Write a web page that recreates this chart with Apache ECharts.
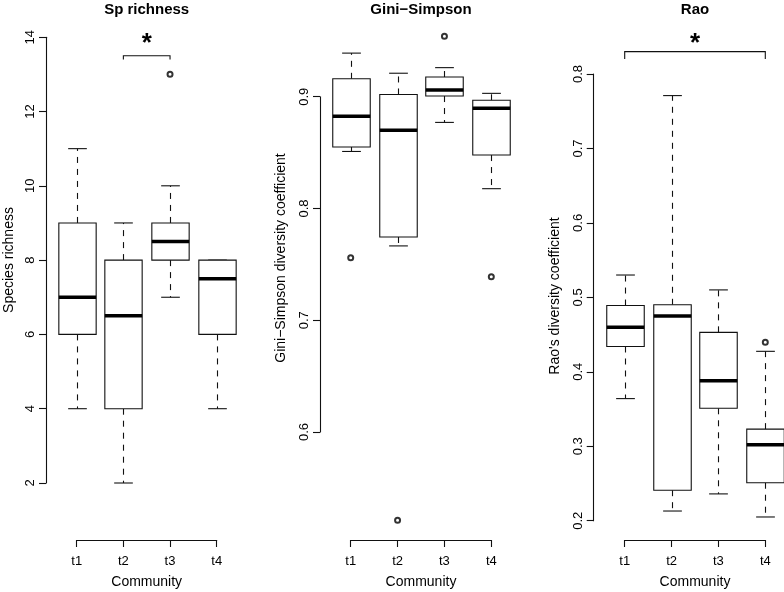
<!DOCTYPE html>
<html><head><meta charset="utf-8">
<script src="https://cdn.jsdelivr.net/npm/echarts@6/dist/echarts.min.js"></script>
<style>html,body{margin:0;padding:0;background:#fff}#c{width:784px;height:592px}</style>
</head><body><div id="c"></div>
<script>
const categories = ['t1', 't2', 't3', 't4'];
// each row: [lower whisker, Q1, median, Q3, upper whisker]
const richnessStats = [[4, 6, 7, 9, 11], [2, 4, 6.5, 8, 9], [7, 8, 8.5, 9, 10], [4, 6, 7.5, 8, 8]];
const richnessOutliers = [[3, 13]];               // [community number, value]
const richnessTicks = [2, 4, 6, 8, 10, 12, 14];
const giniStats = [[0.851, 0.855, 0.8825, 0.916, 0.939], [0.7665, 0.7745, 0.870, 0.902, 0.921],
                   [0.877, 0.9006, 0.906, 0.9176, 0.926], [0.8177, 0.8478, 0.8896, 0.8968, 0.903]];
const giniOutliers = [[1, 0.756], [2, 0.521], [3, 0.954], [4, 0.739]];
const giniTicks = [0.6, 0.7, 0.8, 0.9];
const raoStats = [[0.364, 0.434, 0.460, 0.489, 0.530], [0.213, 0.241, 0.475, 0.490, 0.771],
                  [0.236, 0.351, 0.388, 0.453, 0.510], [0.205, 0.251, 0.302, 0.323, 0.4275]];
const raoOutliers = [[4, 0.4396]];
const raoTicks = [0.2, 0.3, 0.4, 0.5, 0.6, 0.7, 0.8];
// significance brackets: [from community, to community, bar value, bracket end value, star value]
const richnessSig = [[2, 3, 13.5, 13.4, 13.97]];
const raoSig = [[1, 4, 0.830, 0.820, 0.848]];
const titles = ['Sp richness', 'Gini\u2212Simpson', 'Rao'];
const yTitles = ['Species richness', 'Gini\u2212Simpson diversity coefficient', "Rao's diversity coefficient"];
const xTitle = 'Community';

const FONT = '"Liberation Sans", Arial, Helvetica, sans-serif';
const panels = [
  {stats: richnessStats, out: richnessOutliers, ticks: richnessTicks, sig: richnessSig, dec: 0,
   grid: {left: 76.7, right: 567.3, top: 37.2, bottom: 109}, yOff: 30.7, xOff: 57, cx: 146.7, ylx: 9, yly: 260},
  {stats: giniStats, out: giniOutliers, ticks: giniTicks, sig: [], dec: 1,
   grid: {left: 350.7, right: 292.7, top: 96.7, bottom: 160}, yOff: 30.7, xOff: 108, cx: 421, ylx: 281, yly: 258},
  {stats: raoStats, out: raoOutliers, ticks: raoTicks, sig: raoSig, dec: 1,
   grid: {left: 624.7, right: 18.7, top: 74, bottom: 71.3}, yOff: 31, xOff: 19.3, cx: 695, ylx: 555, yly: 296}
];

function renderBox(params, api) {
  const x = api.value(0);
  const lo = api.value(1), q1 = api.value(2), med = api.value(3), q3 = api.value(4), hi = api.value(5);
  const w = api.size([1, 0])[0];
  const hb = w * 0.4, hc = w * 0.2;
  const px = Math.round(api.coord([x, med])[0]) + 0.5;
  const y = v => api.coord([x, v])[1];
  const s = {stroke: '#111', lineWidth: 1.1};
  const ch = [];
  if (hi > q3) ch.push({type: 'line', shape: {x1: px, y1: y(q3), x2: px, y2: y(hi)}, style: Object.assign({lineDash: [6, 6]}, s)});
  if (lo < q1) ch.push({type: 'line', shape: {x1: px, y1: y(q1), x2: px, y2: y(lo)}, style: Object.assign({lineDash: [6, 6]}, s)});
  ch.push({type: 'line', shape: {x1: px - hc, y1: y(hi), x2: px + hc, y2: y(hi)}, style: s});
  ch.push({type: 'line', shape: {x1: px - hc, y1: y(lo), x2: px + hc, y2: y(lo)}, style: s});
  ch.push({type: 'rect', shape: {x: px - hb, y: y(q3), width: 2 * hb, height: y(q1) - y(q3)},
           style: {fill: '#fff', stroke: '#111', lineWidth: 1.1}});
  ch.push({type: 'line', shape: {x1: px - hb, y1: y(med), x2: px + hb, y2: y(med)}, style: {stroke: '#000', lineWidth: 3.5}});
  return {type: 'group', children: ch};
}

function renderSig(params, api) {
  const a = api.value(0), b = api.value(1), bar = api.value(2), end = api.value(3), star = api.value(4);
  const p1 = api.coord([a, end]), p2 = api.coord([a, bar]), p3 = api.coord([b, bar]), p4 = api.coord([b, end]);
  const sp = api.coord([(a + b) / 2, star]);
  return {type: 'group', children: [
    {type: 'polyline', shape: {points: [p1, p2, p3, p4]}, style: {stroke: '#111', lineWidth: 1.1, fill: null}},
    {type: 'text', style: {text: '*', x: sp[0], y: sp[1] + 6, align: 'center', verticalAlign: 'middle',
      font: 'bold 26px ' + FONT, fill: '#000'}}
  ]};
}

const grids = [], xAxes = [], yAxes = [], series = [], graphics = [];
panels.forEach((p, i) => {
  grids.push(Object.assign({containLabel: false}, p.grid));
  const t = p.ticks;
  yAxes.push({
    gridIndex: i, type: 'value', min: t[0], max: t[t.length - 1], interval: +(t[1] - t[0]).toFixed(6),
    offset: p.yOff,
    axisLine: {show: true, lineStyle: {color: '#111', width: 1.1}},
    axisTick: {show: true, length: 7, lineStyle: {color: '#111', width: 1.1}},
    axisLabel: {rotate: 90, margin: 9, color: '#000', fontSize: 13, fontFamily: FONT,
      formatter: v => (+v).toFixed(p.dec)},
    splitLine: {show: false}
  });
  xAxes.push({
    gridIndex: i, type: 'value', min: 1, max: categories.length, interval: 1, position: 'bottom', offset: p.xOff,
    axisLine: {show: true, lineStyle: {color: '#111', width: 1.1}},
    axisTick: {show: true, length: 7, lineStyle: {color: '#111', width: 1.1}},
    axisLabel: {margin: 15, color: '#000', fontSize: 13, fontFamily: FONT, formatter: v => categories[Math.round(v) - 1]},
    splitLine: {show: false}
  });
  series.push({
    type: 'custom', xAxisIndex: i, yAxisIndex: i, clip: false, renderItem: renderBox,
    data: p.stats.map((s, k) => [k + 1].concat(s)), z: 2
  });
  series.push({
    type: 'scatter', xAxisIndex: i, yAxisIndex: i, clip: false, symbol: 'emptyCircle', symbolSize: 5,
    itemStyle: {color: '#000', borderColor: '#000', borderWidth: 0.8}, data: p.out, z: 3, silent: true
  });
  if (p.sig.length) series.push({
    type: 'custom', xAxisIndex: i, yAxisIndex: i, clip: false, renderItem: renderSig, data: p.sig, z: 3
  });
  graphics.push({type: 'text', x: p.cx, y: 10, style: {text: titles[i], font: 'bold 15px ' + FONT, fill: '#000', align: 'center', verticalAlign: 'middle'}});
  graphics.push({type: 'text', x: p.cx, y: 582, style: {text: xTitle, font: '14px ' + FONT, fill: '#000', align: 'center', verticalAlign: 'middle'}});
  graphics.push({type: 'text', x: p.ylx, y: p.yly, rotation: Math.PI / 2,
    style: {text: yTitles[i], font: '14px ' + FONT, fill: '#000', align: 'center', verticalAlign: 'middle'}});
});

const chart = echarts.init(document.getElementById('c'), null, {renderer: 'canvas'});
chart.setOption({
  animation: false, backgroundColor: '#fff',
  grid: grids, xAxis: xAxes, yAxis: yAxes, series: series, graphic: graphics
});
</script>
</body></html>
